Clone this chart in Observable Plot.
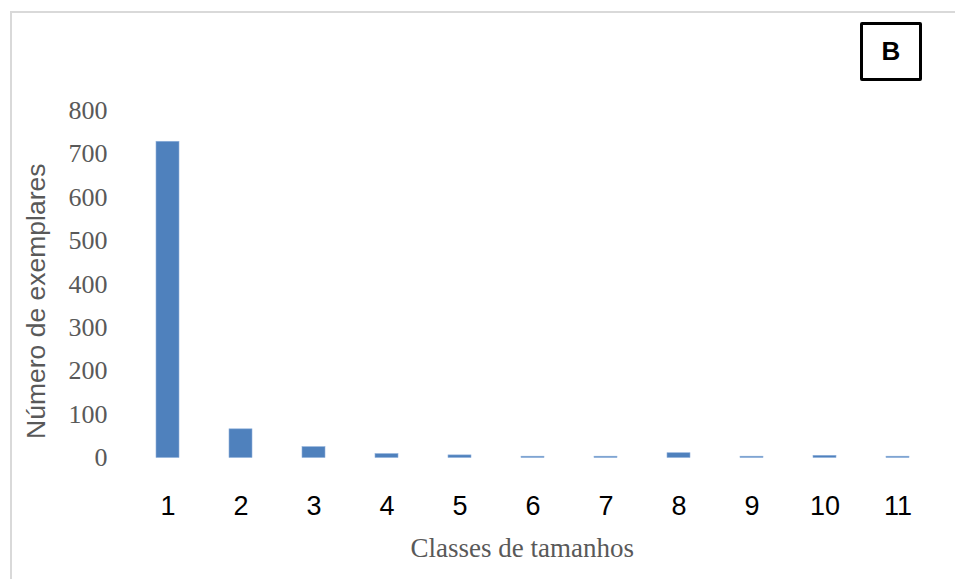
<!DOCTYPE html>
<html>
<head>
<meta charset="utf-8">
<script src="https://cdn.jsdelivr.net/npm/d3@7"></script>
<script src="https://cdn.jsdelivr.net/npm/@observablehq/plot@0.6"></script>
<style>
  html, body { margin: 0; padding: 0; background: #fff; }
  #wrap { position: relative; width: 955px; height: 579px; overflow: hidden; }
  #border { position: absolute; left: 10px; top: 11px; width: 960px; height: 600px;
            border-left: 2px solid #d9d9d9; border-top: 2px solid #d9d9d9; box-sizing: border-box; }
  #chart { position: absolute; left: 0; top: 0; }
  #tag { position: absolute; left: 860px; top: 22px; width: 62px; height: 59px; box-sizing: border-box;
         border: 3px solid #000; border-radius: 2px; font: bold 26px "Liberation Sans", Arial, sans-serif;
         display: flex; align-items: center; justify-content: center; color: #000; background: #fff; }
</style>
</head>
<body>
<div id="wrap">
  <div id="border"></div>
  <div id="chart"></div>
  <div id="tag">B</div>
</div>
<script>
const classes = ["1", "2", "3", "4", "5", "6", "7", "8", "9", "10", "11"];
const counts = [728, 66, 25, 9, 6, 3, 3, 11, 3, 5, 3];
const yTicks = [0, 100, 200, 300, 400, 500, 600, 700, 800];
const yTitle = "Número de exemplares";
const xTitle = "Classes de tamanhos";

const data = classes.map((c, i) => ({cls: c, n: counts[i]}));

const chart = Plot.plot({
  width: 955,
  height: 579,
  marginTop: 110,
  marginBottom: 121.5,
  marginLeft: 130,
  marginRight: 19.4,
  style: {background: "transparent", overflow: "visible"},
  x: {type: "band", domain: classes, paddingInner: 0.687, paddingOuter: 0.331, label: null},
  y: {domain: [0, 800], label: null},
  marks: [
    Plot.barY(data, {x: "cls", y: "n", fill: "#4f81bd", stroke: "#8fb0db", strokeWidth: 0.6}),
    Plot.axisY({ticks: yTicks, tickSize: 0, tickPadding: 23, label: null,
      fontFamily: "Liberation Serif", fontSize: 26, fill: "#595959"}),
    Plot.axisX({tickSize: 0, tickPadding: 38, label: null,
      fontFamily: "Liberation Sans", fontSize: 27, fill: "#000"}),
    Plot.text([yTitle], {text: d => d, frameAnchor: "left", textAnchor: "middle", rotate: -90, dx: -94, dy: 17,
      fontFamily: "Liberation Sans", fontSize: 26.5, fill: "#595959"}),
    Plot.text([xTitle], {text: d => d, frameAnchor: "bottom", textAnchor: "middle", dx: -11, dy: 99,
      fontFamily: "Liberation Serif", fontSize: 27, fill: "#595959"})
  ]
});
document.getElementById("chart").appendChild(chart);
</script>
</body>
</html>
